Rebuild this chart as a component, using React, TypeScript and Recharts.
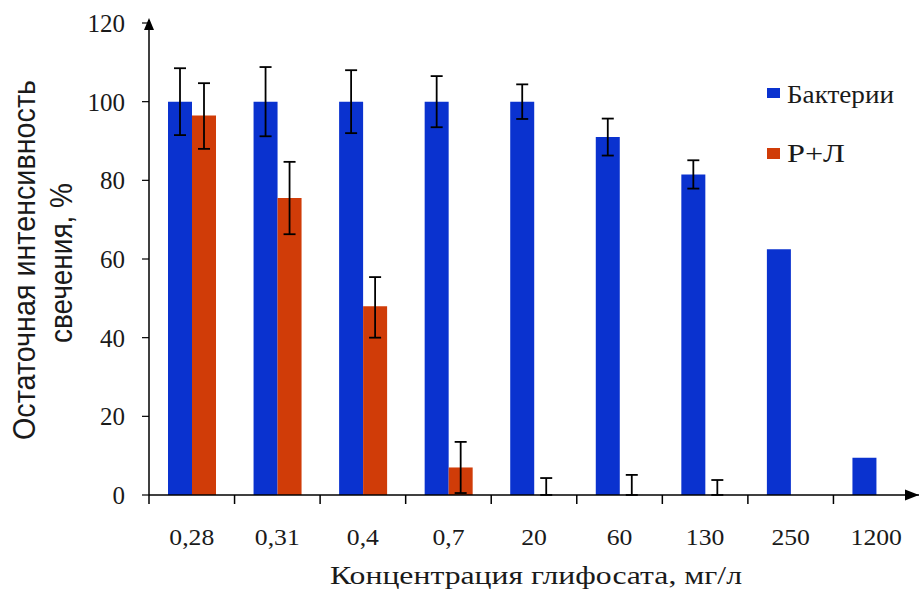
import React from 'react';
import { BarChart, Bar, XAxis, YAxis, ErrorBar, Legend } from 'recharts';

// ---- data ----
const categories = ['0,28', '0,31', '0,4', '0,7', '20', '60', '130', '250', '1200'];
const bacteria = [100, 100, 100, 100, 100, 91, 81.5, 62.5, 9.5];
const bacteriaErr: (number | null)[] = [8.5, 8.8, 8, 6.5, 4.4, 4.7, 3.6, null, null];
// Р+Л is ~0 from 20 mg/l on (a near-zero value keeps the error bar drawn)
const rl = [96.5, 75.5, 48, 7, 0.01, 0.01, 0.01, 0, 0];
const rlErrLow: (number | null)[] = [8.5, 9.2, 8, 6.5, 0, 0, 0, null, null];
const rlErrHigh: (number | null)[] = [8.2, 9.2, 7.4, 6.5, 4.3, 5.1, 3.8, null, null];
const yTicks = [0, 20, 40, 60, 80, 100, 120];

const seriesNames = { bacteria: 'Бактерии', rl: 'Р+Л' };
const xTitle = 'Концентрация глифосата, мг/л';
const yTitle1 = 'Остаточная интенсивность';
const yTitle2 = 'свечения, %';

// ---- styles / layout ----
const W = 921;
const H = 597;
const PLOT_LEFT = 149;
const PLOT_TOP = 23;
const PLOT_BOTTOM = 495;
const PLOT_RIGHT = 919;
const BLUE = '#0a32cf';
const RED = '#d03c08';
const TEXT = '#1a1a1a';
const SERIF = '"Liberation Serif", "Times New Roman", serif';
const SANS = '"Liberation Sans", Arial, sans-serif';

const data = categories.map((c, i) => ({
  cat: c,
  bacteria: bacteria[i],
  bErr: bacteriaErr[i] == null ? null : [bacteriaErr[i], bacteriaErr[i]],
  rl: rl[i],
  rErr: rlErrHigh[i] == null ? null : [rlErrLow[i], rlErrHigh[i]],
}));

const XTick = (props: any) => {
  const { x, y, payload } = props;
  const half = payload && payload.offset ? payload.offset : (PLOT_RIGHT - PLOT_LEFT) / categories.length / 2;
  return (
    <g>
      <line x1={x - half} x2={x - half} y1={y} y2={y + 9} stroke="#000" strokeWidth={1.5} />
      <text
        x={x}
        y={y + 50}
        textAnchor="middle"
        fontSize={24}
        fontFamily={SERIF}
        fill={TEXT}
        transform={`translate(${x} 0) scale(1.07 1) translate(${-x} 0)`}
      >
        {payload.value}
      </text>
    </g>
  );
};

const XTitle = (props: any) => {
  const vb = props.viewBox || {};
  const cx = vb.x + vb.width / 2;
  return (
    <text
      x={cx + 2}
      y={vb.y + 89}
      textAnchor="middle"
      fontSize={26}
      fontFamily={SERIF}
      fill={TEXT}
      textLength={412}
      lengthAdjust="spacingAndGlyphs"
    >
      {xTitle}
    </text>
  );
};

const YTitle = (props: any) => {
  const vb = props.viewBox || {};
  const cy = vb.y + vb.height / 2;
  return (
    <g>
      <text
        x={35}
        y={cy + 1}
        transform={`rotate(-90 35 ${cy + 1})`}
        textAnchor="middle"
        fontSize={32}
        fontFamily={SANS}
        fill={TEXT}
        textLength={360}
        lengthAdjust="spacingAndGlyphs"
      >
        {yTitle1}
      </text>
      <text
        x={72}
        y={cy + 4}
        transform={`rotate(-90 72 ${cy + 4})`}
        textAnchor="middle"
        fontSize={32}
        fontFamily={SANS}
        fill={TEXT}
        textLength={160}
        lengthAdjust="spacingAndGlyphs"
      >
        {yTitle2}
      </text>
    </g>
  );
};

const LegendContent = () => (
  <svg width={160} height={100} style={{ display: 'block', overflow: 'visible' }}>
    <rect x={7} y={10} width={13} height={10} fill={BLUE} />
    <text x={27} y={25} fontSize={25} fontFamily={SERIF} fill={TEXT} textLength={107} lengthAdjust="spacingAndGlyphs">
      {seriesNames.bacteria}
    </text>
    <rect x={7} y={70} width={13} height={11} fill={RED} />
    <text x={27} y={84} fontSize={25} fontFamily={SERIF} fill={TEXT} textLength={58} lengthAdjust="spacingAndGlyphs">
      {seriesNames.rl}
    </text>
  </svg>
);

export default function App() {
  return (
    <div style={{ position: 'absolute', left: 0, top: 0, width: W, height: H, background: '#fff' }}>
      <BarChart
        width={W}
        height={H}
        data={data}
        margin={{ top: PLOT_TOP, right: W - PLOT_RIGHT, bottom: 0, left: 0 }}
        barSize={24}
        barGap={0}
      >
        <XAxis
          dataKey="cat"
          height={H - PLOT_BOTTOM}
          interval={0}
          tickLine={false}
          tickSize={0}
          tickMargin={0}
          axisLine={{ stroke: '#000', strokeWidth: 1.5 }}
          tick={<XTick />}
          label={<XTitle />}
        />
        <YAxis
          width={PLOT_LEFT}
          domain={[0, 120]}
          ticks={yTicks}
          allowDataOverflow
          tickSize={7}
          tickMargin={17}
          axisLine={{ stroke: '#000', strokeWidth: 1.5 }}
          tickLine={{ stroke: '#000', strokeWidth: 1.2 }}
          tick={{ fontSize: 25, fontFamily: SERIF, fill: TEXT }}
          label={<YTitle />}
        />
        <Legend
          layout="vertical"
          align="center"
          verticalAlign="middle"
          wrapperStyle={{ left: 760, top: 78, width: 160, height: 100 }}
          content={<LegendContent />}
        />
        <Bar dataKey="bacteria" name={seriesNames.bacteria} fill={BLUE} isAnimationActive={false}>
          <ErrorBar dataKey="bErr" width={6} stroke="#000" strokeWidth={1.8} direction="y" />
        </Bar>
        <Bar dataKey="rl" name={seriesNames.rl} fill={RED} isAnimationActive={false}>
          <ErrorBar dataKey="rErr" width={6} stroke="#000" strokeWidth={1.8} direction="y" />
        </Bar>
      </BarChart>
      <svg
        width={W}
        height={H}
        style={{ position: 'absolute', left: 0, top: 0, pointerEvents: 'none' }}
      >
        <polygon
          points={`${PLOT_LEFT},${PLOT_TOP - 5} ${PLOT_LEFT - 5},${PLOT_TOP + 7} ${PLOT_LEFT + 5},${PLOT_TOP + 7}`}
          fill="#000"
        />
        <line x1={PLOT_LEFT} x2={PLOT_LEFT} y1={PLOT_TOP - 3} y2={PLOT_TOP + 2} stroke="#000" strokeWidth={1.5} />
        <polygon
          points={`${PLOT_RIGHT},${PLOT_BOTTOM} ${PLOT_RIGHT - 14},${PLOT_BOTTOM - 5.5} ${PLOT_RIGHT - 14},${PLOT_BOTTOM + 5.5}`}
          fill="#000"
        />
      </svg>
    </div>
  );
}
